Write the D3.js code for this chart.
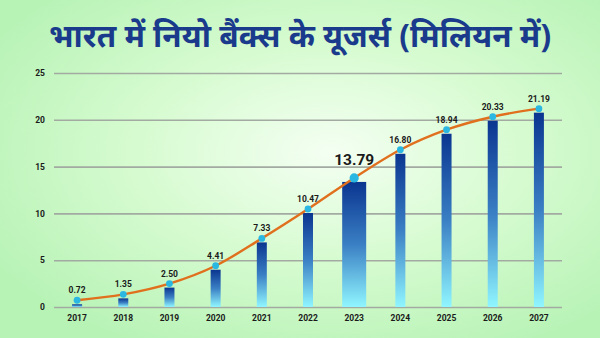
<!DOCTYPE html>
<html>
<head>
<meta charset="utf-8">
<script src="https://cdn.jsdelivr.net/npm/d3@7"></script>
<style>
  html, body { margin: 0; padding: 0; }
  body { width: 600px; height: 338px; overflow: hidden; }
  svg { display: block; }
</style>
</head>
<body>
<svg id="chart" width="600" height="338"></svg>
<script>
// Neo-bank users in India (millions), 2017–2027
const years = ["2017","2018","2019","2020","2021","2022","2023","2024","2025","2026","2027"];
const users = [0.72, 1.35, 2.50, 4.41, 7.33, 10.47, 13.79, 16.80, 18.94, 20.33, 21.19];
const yTicks = [0, 5, 10, 15, 20, 25];
const highlightYear = "2023";
const titleText = "भारत में नियो बैंक्स के यूजर्स (मिलियन में)";

const W = 600, H = 338;
const margin = { left: 54, right: 38, top: 73, bottom: 31 };
const svg = d3.select("#chart");
const defs = svg.append("defs");

// background: soft green with a bright centre
const bg = defs.append("radialGradient").attr("id", "bg")
  .attr("cx", "55%").attr("cy", "45%").attr("r", "65%");
bg.append("stop").attr("offset", "0%").attr("stop-color", "#f4fff2");
bg.append("stop").attr("offset", "50%").attr("stop-color", "#d6fbd0");
bg.append("stop").attr("offset", "100%").attr("stop-color", "#b8f3b6");
svg.append("rect").attr("width", W).attr("height", H).attr("fill", "url(#bg)");

// bar fill: deep blue at top fading to cyan at the base
const bar = defs.append("linearGradient").attr("id", "barGrad")
  .attr("x1", 0).attr("y1", 0).attr("x2", 0).attr("y2", 1);
bar.append("stop").attr("offset", "0%").attr("stop-color", "#0a3590");
bar.append("stop").attr("offset", "50%").attr("stop-color", "#3a7fc4");
bar.append("stop").attr("offset", "100%").attr("stop-color", "#90f6ff");

const x = d3.scaleBand().domain(years)
  .range([margin.left, W - margin.right]).padding(0);
const y = d3.scaleLinear().domain([0, 25])
  .range([H - margin.bottom, margin.top]);

// title
svg.append("text")
  .attr("x", 300).attr("y", 47)
  .attr("text-anchor", "middle")
  .attr("font-family", "'Noto Sans', 'Noto Sans Devanagari', sans-serif")
  .attr("font-weight", 700)
  .attr("font-size", 31.5)
  .attr("fill", "#1a3a8c")
  .text(titleText);

// gridlines + y labels
const yAxis = d3.axisLeft(y).tickValues(yTicks)
  .tickSize(-(W - margin.left - margin.right)).tickPadding(9);
const gy = svg.append("g").attr("transform", `translate(${margin.left},0)`).call(yAxis);
gy.select(".domain").remove();
gy.selectAll(".tick line").attr("stroke", "#a2aaa2").attr("stroke-width", 1.6);
gy.selectAll(".tick text")
  .attr("font-family", "Roboto, 'Liberation Sans', Arial, sans-serif")
  .attr("font-weight", 700).attr("font-size", 8.5).attr("fill", "#1a1a1a");

// x labels
const xAxis = d3.axisBottom(x).tickSize(0).tickPadding(8);
const gx = svg.append("g").attr("transform", `translate(0,${H - margin.bottom})`).call(xAxis);
gx.select(".domain").remove();
gx.selectAll(".tick text")
  .attr("font-family", "Roboto, 'Liberation Sans', Arial, sans-serif")
  .attr("font-weight", 700).attr("font-size", 8.5).attr("fill", "#1a1a1a");

const data = years.map((yr, i) => ({ year: yr, value: users[i], hi: yr === highlightYear }));
const cx = d => x(d.year) + x.bandwidth() / 2;

// bars sit just beneath their data point
const gap = 4;
svg.append("g").selectAll("rect").data(data).join("rect")
  .attr("x", d => cx(d) - (d.hi ? 12 : 5))
  .attr("width", d => d.hi ? 24 : 10)
  .attr("y", d => y(d.value) + gap)
  .attr("height", d => Math.max(0, y(0) - y(d.value) - gap))
  .attr("fill", "url(#barGrad)");

// trend line
const line = d3.line().x(cx).y(d => y(d.value)).curve(d3.curveMonotoneX);
svg.append("path").datum(data)
  .attr("d", line)
  .attr("fill", "none")
  .attr("stroke", "#e0701e")
  .attr("stroke-width", 2.4);

// points
svg.append("g").selectAll("circle").data(data).join("circle")
  .attr("cx", cx).attr("cy", d => y(d.value))
  .attr("r", d => d.hi ? 4.6 : 3.4)
  .attr("fill", "#2ab8e2");

// value labels
svg.append("g").selectAll("text").data(data).join("text")
  .attr("x", cx)
  .attr("y", d => y(d.value) - (d.hi ? 13 : 7))
  .attr("text-anchor", "middle")
  .attr("font-family", "Roboto, 'Liberation Sans', Arial, sans-serif")
  .attr("font-weight", 700)
  .attr("font-size", d => d.hi ? 15.5 : 8.5)
  .attr("fill", "#1a1a1a")
  .text(d => d.value.toFixed(2));
</script>
</body>
</html>
